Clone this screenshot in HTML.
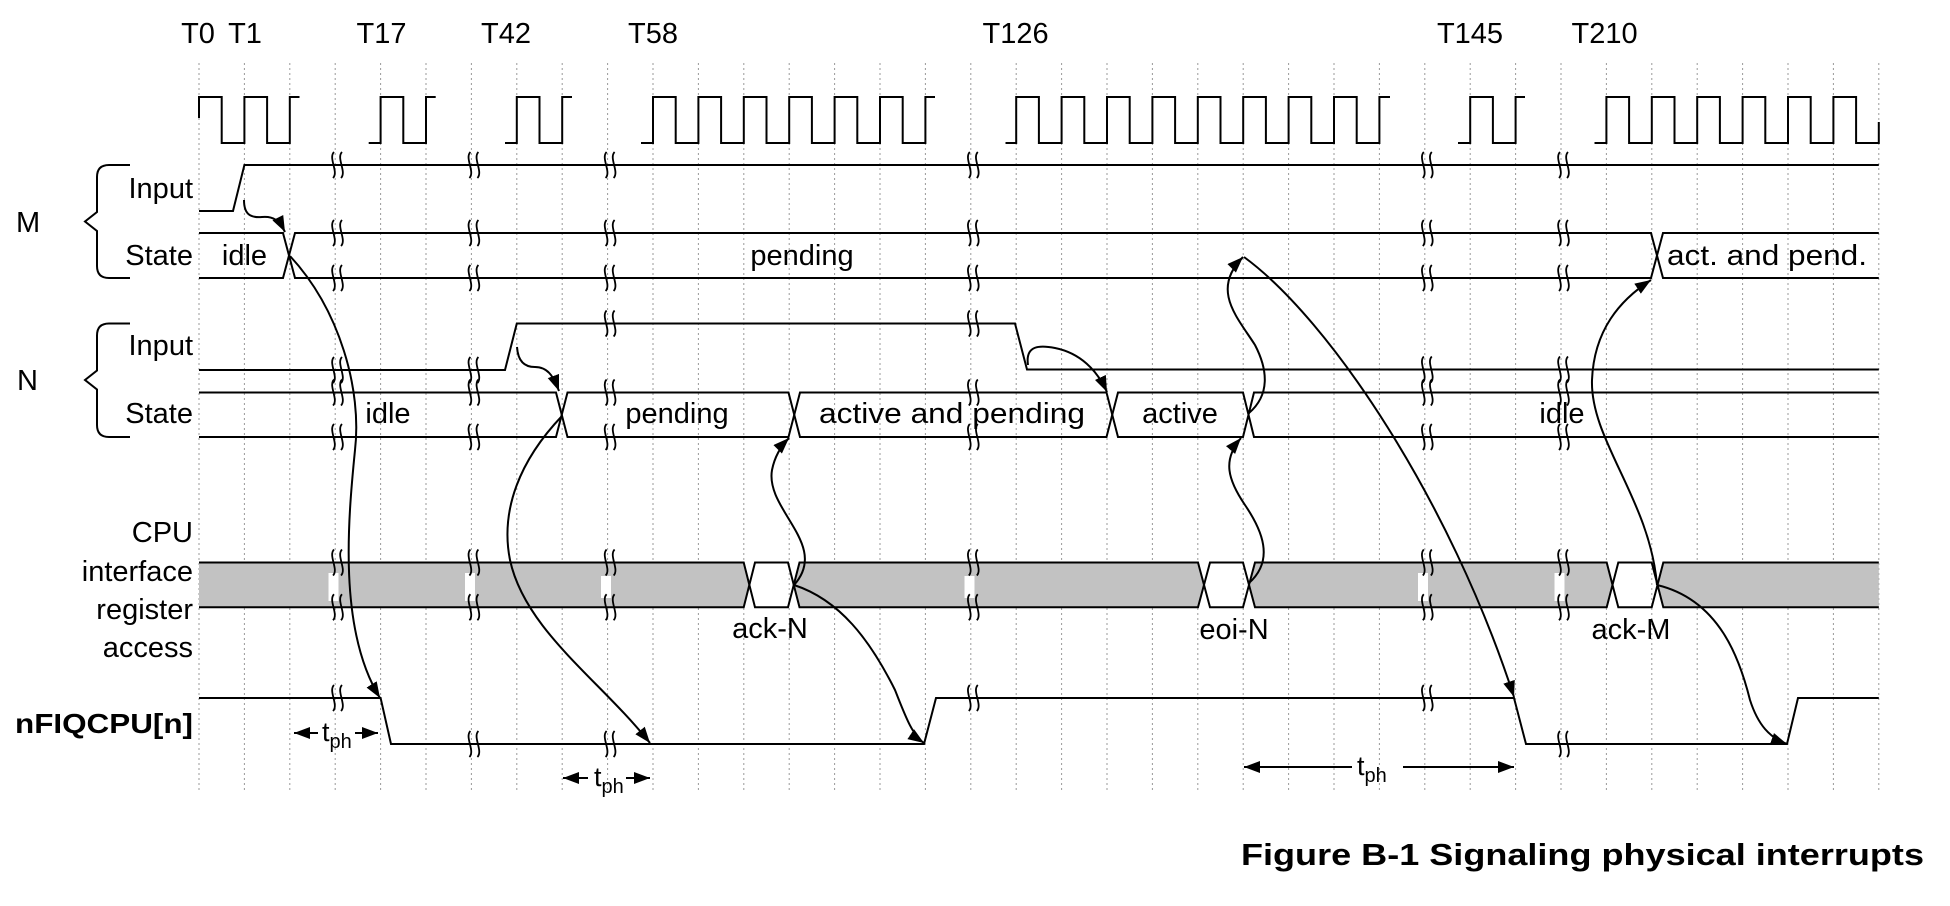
<!DOCTYPE html>
<html><head><meta charset="utf-8"><style>
html,body{margin:0;padding:0;background:#fff;}
svg{display:block;}
text{font-family:"Liberation Sans",Arial,sans-serif;fill:#000;}
</style></head><body>
<svg width="1950" height="906" viewBox="0 0 1950 906" xmlns="http://www.w3.org/2000/svg">
<defs>
<marker id="ah" markerUnits="userSpaceOnUse" markerWidth="18" markerHeight="14" refX="16" refY="6" orient="auto">
<path d="M0,0 L16,6 L0,12 Z" fill="#000"/>
</marker>
<path id="bk" d="M1,-13 c-6,6 5,20 -1,26 m9,-26 c-6,6 5,20 -1,26" fill="none" stroke="#000" stroke-width="1.8"/>
<g id="row">
<use href="#bk" x="333"/><use href="#bk" x="469.4"/><use href="#bk" x="605.6"/>
<use href="#bk" x="968.8"/><use href="#bk" x="1422.8"/><use href="#bk" x="1559"/>
</g>
</defs>
<!-- grid -->
<g stroke="#999" stroke-width="1" stroke-dasharray="2,3">
<path d="M199,63V790M244.4,63V790M289.8,63V790M335.2,63V790M380.6,63V790M426,63V790M471.4,63V790M516.8,63V790M562.2,63V790M607.6,63V790M653,63V790M698.4,63V790M743.8,63V790M789.2,63V790M834.6,63V790M880,63V790M925.4,63V790M970.8,63V790M1016.2,63V790M1061.6,63V790M1107,63V790M1152.4,63V790M1197.8,63V790M1243.2,63V790M1288.6,63V790M1334,63V790M1379.4,63V790M1424.8,63V790M1470.2,63V790M1515.6,63V790M1561,63V790M1606.4,63V790M1651.8,63V790M1697.2,63V790M1742.6,63V790M1788,63V790M1833.4,63V790M1878.8,63V790"/>
</g>
<!-- T labels -->
<g font-size="29" text-anchor="middle">
<text x="198" y="43">T0</text><text x="245" y="43">T1</text>
<text x="381.5" y="43">T17</text><text x="506" y="43">T42</text>
<text x="653" y="43">T58</text><text x="1015.6" y="43">T126</text>
<text x="1470" y="43">T145</text><text x="1604.6" y="43">T210</text>
</g>
<!-- clock -->
<g fill="none" stroke="#000" stroke-width="2">
<path d="M199,118 V97 H221.7 V143 H244.4 V97 H267.1 V143 H289.8 V97 H299.5"/>
<path d="M368.7,143 H380.6 V97 H403.3 V143 H426 V97 H435.7"/>
<path d="M505,143 H516.8 V97 H539.5 V143 H562.2 V97 H572"/>
<path d="M641,143 H653 V97 H675.7 V143 H698.4 V97 H721.1 V143 H743.8 V97 H766.5 V143 H789.2 V97 H811.9 V143 H834.6 V97 H857.3 V143 H880 V97 H902.7 V143 H925.4 V97 H935"/>
<path d="M1005.5,143 H1016.2 V97 H1038.9 V143 H1061.6 V97 H1084.3 V143 H1107 V97 H1129.7 V143 H1152.4 V97 H1175.1 V143 H1197.8 V97 H1220.5 V143 H1243.2 V97 H1265.9 V143 H1288.6 V97 H1311.3 V143 H1334 V97 H1356.7 V143 H1379.4 V97 H1390"/>
<path d="M1458,143 H1470.2 V97 H1492.9 V143 H1515.6 V97 H1525"/>
<path d="M1594.5,143 H1606.4 V97 H1629.1 V143 H1651.8 V97 H1674.5 V143 H1697.2 V97 H1719.9 V143 H1742.6 V97 H1765.3 V143 H1788 V97 H1810.7 V143 H1833.4 V97 H1856.1 V143 H1878.8 V122"/>
</g>
<!-- CPU bar fills -->
<g fill="#c2c2c2" stroke="none">
<polygon points="199,562.5 743.7,562.5 749.3,585 743.7,607.3 199,607.3"/>
<polygon points="793.8,585 799.5,562.5 1198,562.5 1204,585 1198,607.3 799.5,607.3"/>
<polygon points="1249,585 1255,562.5 1606.7,562.5 1612.5,585 1606.7,607.3 1255,607.3"/>
<polygon points="1657.5,585 1663.3,562.5 1878.8,562.5 1878.8,607.3 1663.3,607.3"/>
</g>
<g fill="#fff">
<rect x="328.5" y="573" width="10" height="28"/>
<rect x="465" y="573" width="10" height="28"/>
<rect x="601" y="576" width="10" height="22"/>
<rect x="964.5" y="576" width="10" height="22"/>
<rect x="1418" y="573" width="10" height="28"/>
<rect x="1554.5" y="573" width="10" height="28"/>
</g>
<!-- signals -->
<g fill="none" stroke="#000" stroke-width="2">
<path d="M199,211 H233 L244.4,165 H1878.8"/>
<path d="M199,233 H283 L295,278 H1651 L1663,233 H1878.8"/>
<path d="M199,278 H283 L295,233 H1651 L1663,278 H1878.8"/>
<path d="M199,370 H505 L516.8,323.5 H1015 L1027,369.5 H1878.8"/>
<path d="M199,392.5 H556 L567.5,437 H788.5 L800,392.5 H1106.5 L1118,437 H1243 L1254,392.5 H1878.8"/>
<path d="M199,437 H556 L567.5,392.5 H788.5 L800,437 H1106.5 L1118,392.5 H1243 L1254,437 H1878.8"/>
<path d="M199,562.5 H743.7 L755,607.3 H788 L799.5,562.5 H1198 L1210,607.3 H1243 L1255,562.5 H1606.7 L1618.3,607.3 H1651.7 L1663.3,562.5 H1878.8"/>
<path d="M199,607.3 H743.7 L755,562.5 H788 L799.5,607.3 H1198 L1210,562.5 H1243 L1255,607.3 H1606.7 L1618.3,562.5 H1651.7 L1663.3,607.3 H1878.8"/>
<path d="M199,698 H380.6 L391,744 H924 L936,698 H1514 L1526,744 H1787 L1798,698 H1878.8"/>
</g>
<!-- break marks -->
<use href="#row" y="165"/>
<use href="#row" y="233"/>
<use href="#row" y="278"/>
<use href="#row" y="392.5"/>
<use href="#row" y="437"/>
<use href="#row" y="562.5"/>
<use href="#row" y="607.3"/>
<use href="#bk" x="333" y="370"/><use href="#bk" x="469.4" y="370"/>
<use href="#bk" x="605.6" y="323.5"/><use href="#bk" x="968.8" y="323.5"/>
<use href="#bk" x="1422.8" y="369.5"/><use href="#bk" x="1559" y="369.5"/>
<use href="#bk" x="333" y="698"/><use href="#bk" x="469.4" y="744"/>
<use href="#bk" x="605.6" y="744"/><use href="#bk" x="968.8" y="698"/>
<use href="#bk" x="1422.8" y="698"/><use href="#bk" x="1559" y="744"/>
<!-- braces -->
<g fill="none" stroke="#000" stroke-width="2">
<path d="M130,165 H109 Q97,165 97,177 V212 L85,221.5 L97,231 V266 Q97,278 109,278 H130"/>
<path d="M130,323.5 H109 Q97,323.5 97,335.5 V370.5 L85,380 L97,389.5 V425 Q97,437 109,437 H130"/>
</g>
<!-- left labels -->
<g font-size="29">
<text x="16" y="232">M</text>
<text x="17" y="390">N</text>
</g>
<g font-size="29" text-anchor="end">
<text x="193" y="198">Input</text>
<text x="193" y="265">State</text>
<text x="193" y="355">Input</text>
<text x="193" y="423">State</text>
<text x="193" y="542">CPU</text>
<text x="193" y="581">interface</text>
<text x="193" y="619">register</text>
<text x="193" y="657">access</text>
</g>
<text x="15" y="733" font-size="28" font-weight="bold" textLength="178" lengthAdjust="spacingAndGlyphs">nFIQCPU[n]</text>
<!-- state texts -->
<g font-size="29" text-anchor="middle">
<text x="244.5" y="265">idle</text>
<text x="802" y="265">pending</text>
<text x="1767" y="265" textLength="200" lengthAdjust="spacingAndGlyphs">act. and pend.</text>
<text x="388" y="423">idle</text>
<text x="677" y="423">pending</text>
<text x="952" y="423" textLength="266" lengthAdjust="spacingAndGlyphs">active and pending</text>
<text x="1180" y="423">active</text>
<text x="1562" y="423">idle</text>
<text x="770" y="638">ack-N</text>
<text x="1234" y="639">eoi-N</text>
<text x="1631" y="639">ack-M</text>
</g>
<!-- tph -->
<g stroke="#000" stroke-width="2" fill="none">
<path d="M318,733 H294" marker-end="url(#ah)"/>
<path d="M355,733 H378" marker-end="url(#ah)"/>
<path d="M588,778 H563" marker-end="url(#ah)"/>
<path d="M626,778 H650" marker-end="url(#ah)"/>
<path d="M1352,767 H1244" marker-end="url(#ah)"/>
<path d="M1403,767 H1514" marker-end="url(#ah)"/>
</g>
<g font-size="27">
<text x="322" y="741">t<tspan font-size="20" dy="7">ph</tspan></text>
<text x="594" y="786">t<tspan font-size="20" dy="7">ph</tspan></text>
<text x="1357" y="775">t<tspan font-size="20" dy="7">ph</tspan></text>
</g>
<!-- arrows -->
<g fill="none" stroke="#000" stroke-width="2">
<path d="M244,200 C244,214 250,218 262,217 C273,216 279,220 285,232" marker-end="url(#ah)"/>
<path d="M290,256 C340,310 362,390 355,450 C348,520 338,630 380,698" marker-end="url(#ah)"/>
<path d="M517,347 C518,362 525,367 535,367 C547,367 553,375 559,391" marker-end="url(#ah)"/>
<path d="M562,416 C520,460 500,510 510,560 C525,630 600,680 650,743" marker-end="url(#ah)"/>
<path d="M794,585 C830,545 765,510 772,470 C775,455 782,445 789,438" marker-end="url(#ah)"/>
<path d="M794,585 C840,600 870,640 895,690 C905,715 912,735 924,743" marker-end="url(#ah)"/>
<path d="M1028,365 C1025,345 1040,345 1055,348 C1080,353 1097,370 1107,392" marker-end="url(#ah)"/>
<path d="M1249,583 C1275,560 1262,530 1245,505 C1228,480 1222,460 1241,438" marker-end="url(#ah)"/>
<path d="M1249,413 C1270,395 1268,370 1255,345 C1238,318 1210,290 1243,257" marker-end="url(#ah)"/>
<path d="M1244,257 C1330,320 1450,500 1514,697" marker-end="url(#ah)"/>
<path d="M1657,585 C1720,600 1740,660 1750,700 C1758,725 1770,738 1787,744" marker-end="url(#ah)"/>
<path d="M1657,585 C1650,500 1590,440 1592,380 C1594,330 1620,300 1651,280" marker-end="url(#ah)"/>
</g>
<!-- caption -->
<text x="1241" y="865" font-size="31" font-weight="bold" textLength="683" lengthAdjust="spacingAndGlyphs">Figure B-1 Signaling physical interrupts</text>
</svg>
</body></html>
